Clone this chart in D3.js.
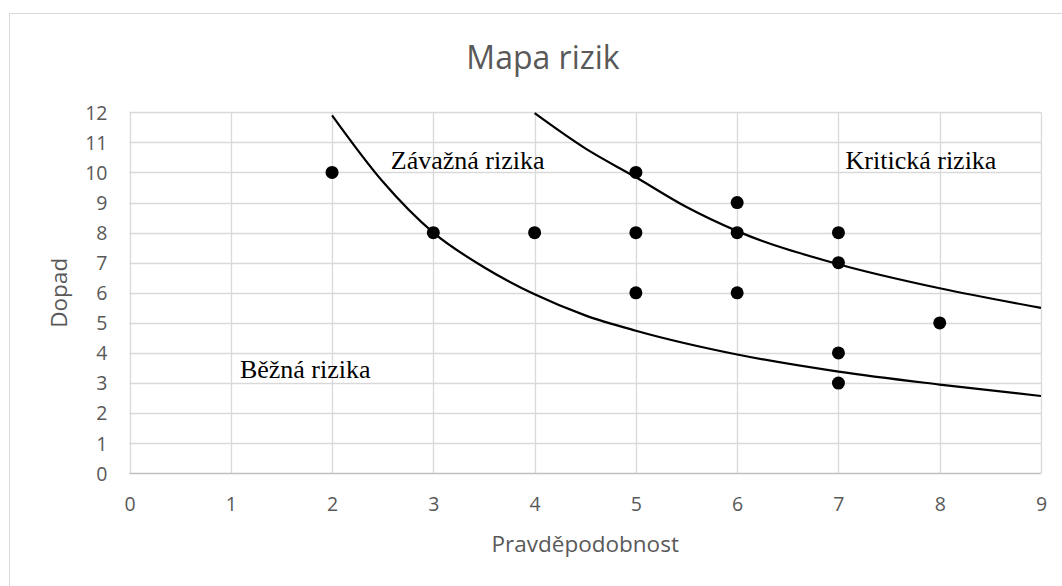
<!DOCTYPE html>
<html>
<head>
<meta charset="utf-8">
<script src="https://d3js.org/d3.v7.min.js"></script>
<style>
  body { margin: 0; background: #fff; }
  svg { display: block; }
</style>
</head>
<body>
<svg width="1062" height="586"></svg>
<script>
// risk points (probability, impact)
var pravdepodobnost = [2, 3, 4, 5, 5, 5, 6, 6, 6, 7, 7, 7, 7, 8];
var dopad           = [10, 8, 8, 10, 8, 6, 9, 8, 6, 8, 7, 4, 3, 5];

// boundary curves
var dolniX = [2, 2.5, 3, 3.5, 4, 4.5, 5, 6, 7, 8, 9];
var dolniY = [11.9, 9.7, 8.0, 6.85, 5.95, 5.25, 4.74, 3.95, 3.38, 2.95, 2.57];
var horniX = [4, 4.5, 5, 5.5, 6, 7, 8, 9];
var horniY = [11.97, 10.8, 9.84, 8.85, 8.05, 6.95, 6.15, 5.5];

var xTicks = [0, 1, 2, 3, 4, 5, 6, 7, 8, 9];
var yTicks = [0, 1, 2, 3, 4, 5, 6, 7, 8, 9, 10, 11, 12];

var popisky = ["Závažná rizika", "Kritická rizika", "Běžná rizika"];
var popiskyX = [2.58, 7.07, 1.09];
var popiskyY = [10.12, 10.1, 3.17];

var svg = d3.select("svg"),
    width = +svg.attr("width"),
    height = +svg.attr("height");

var sans = "'Open Sans', sans-serif",
    grey = "#595959";

// chart frame (runs off the right/bottom edge like the original)
svg.append("rect")
    .attr("x", 9.5).attr("y", 13.5)
    .attr("width", 1120).attr("height", 620)
    .attr("fill", "#fff")
    .attr("stroke", "#d9d9d9");

var x = d3.scaleLinear().domain([0, 9]).range([129.5, 1041]);
var y = d3.scaleLinear().domain([0, 12]).range([473.3, 112.3]);

// grid
var g = svg.append("g");
g.selectAll(".vgrid")
    .data(xTicks)
  .enter().append("line")
    .attr("x1", function(d){ return Math.round(x(d)) + 0.5; })
    .attr("x2", function(d){ return Math.round(x(d)) + 0.5; })
    .attr("y1", y(0)).attr("y2", y(12))
    .attr("stroke", "#d9d9d9").attr("stroke-width", 1.3);
g.selectAll(".hgrid")
    .data(yTicks)
  .enter().append("line")
    .attr("x1", x(0)).attr("x2", x(9))
    .attr("y1", function(d){ return Math.round(y(d)) + 0.5; })
    .attr("y2", function(d){ return Math.round(y(d)) + 0.5; })
    .attr("stroke", function(d){ return d == 0 ? "#bfbfbf" : "#d9d9d9"; })
    .attr("stroke-width", 1.3);

// axes labels via d3 axes
var xAxis = svg.append("g")
    .attr("transform", "translate(0," + y(0) + ")")
    .call(d3.axisBottom(x).tickValues(xTicks).tickSize(0).tickPadding(38));
var yAxis = svg.append("g")
    .attr("transform", "translate(" + x(0) + ",0)")
    .call(d3.axisLeft(y).tickValues(yTicks).tickSize(0).tickPadding(22));
[xAxis, yAxis].forEach(function(a){
  a.select(".domain").remove();
  a.selectAll("text")
    .attr("font-family", sans)
    .attr("font-size", 19.5)
    .attr("fill", grey);
});
yAxis.selectAll("text").attr("dy", "0.35em");
xAxis.selectAll("text").attr("dy", "0");

// curves
var line = d3.line()
    .x(function(d){ return x(d[0]); })
    .y(function(d){ return y(d[1]); })
    .curve(d3.curveMonotoneX);
[[dolniX, dolniY], [horniX, horniY]].forEach(function(c){
  svg.append("path")
    .datum(c[0].map(function(v, i){ return [v, c[1][i]]; }))
    .attr("d", line)
    .attr("fill", "none")
    .attr("stroke", "#000")
    .attr("stroke-width", 2.2);
});

// points
svg.selectAll(".bod")
    .data(pravdepodobnost.map(function(v, i){ return [v, dopad[i]]; }))
  .enter().append("circle")
    .attr("cx", function(d){ return x(d[0]); })
    .attr("cy", function(d){ return y(d[1]); })
    .attr("r", 6.5)
    .attr("fill", "#000");

// zone labels
svg.selectAll(".popisek")
    .data(popisky)
  .enter().append("text")
    .attr("x", function(d, i){ return x(popiskyX[i]); })
    .attr("y", function(d, i){ return y(popiskyY[i]); })
    .attr("font-family", "'Liberation Serif', 'Times New Roman', serif")
    .attr("font-size", 26)
    .attr("fill", "#000")
    .text(function(d){ return d; });

// titles
svg.append("text")
    .attr("x", 543).attr("y", 69)
    .attr("text-anchor", "middle")
    .attr("font-family", sans)
    .attr("font-size", 32)
    .attr("fill", grey)
    .text("Mapa rizik");

svg.append("text")
    .attr("x", (x(0) + x(9)) / 2).attr("y", 552)
    .attr("text-anchor", "middle")
    .attr("font-family", sans)
    .attr("font-size", 22.5)
    .attr("fill", grey)
    .text("Pravděpodobnost");

svg.append("text")
    .attr("transform", "translate(67," + ((y(0) + y(12)) / 2) + ") rotate(-90)")
    .attr("text-anchor", "middle")
    .attr("font-family", sans)
    .attr("font-size", 22.5)
    .attr("fill", grey)
    .text("Dopad");
</script>
</body>
</html>
